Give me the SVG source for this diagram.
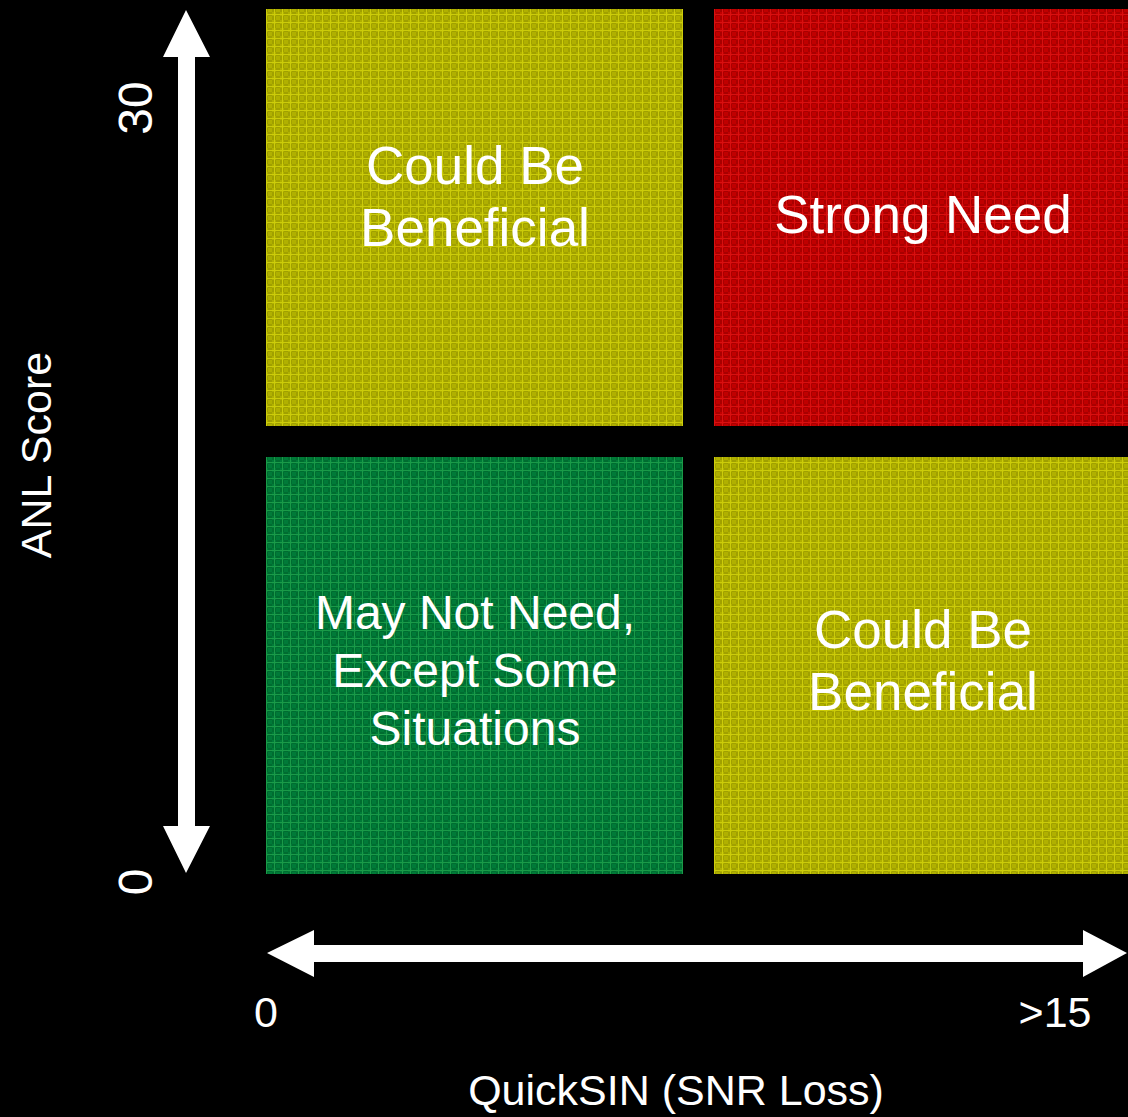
<svg xmlns="http://www.w3.org/2000/svg" width="1128" height="1117" viewBox="0 0 1128 1117">
<style>
text{font-family:"Liberation Sans",Arial,sans-serif;fill:#fff}
.q{font-size:53px;text-anchor:middle}
.m{font-size:48px;text-anchor:middle}
.ax{font-size:43px;text-anchor:middle}
.big{font-size:48px}
.arrow{fill:#fff}
</style>
<defs>
<pattern id="py" width="8" height="8" patternUnits="userSpaceOnUse">
<rect width="8" height="8" fill="#b0b000"/>
<rect x="0" y="0" width="4" height="4" fill="#a0a000"/>
<rect x="4" y="4" width="4" height="4" fill="#a0a000"/>
<rect x="2" y="0" width="1" height="8" fill="#cccc0a"/>
<rect x="0" y="6" width="8" height="1" fill="#cccc0a"/>
</pattern>
<pattern id="pr" width="8" height="8" patternUnits="userSpaceOnUse">
<rect width="8" height="8" fill="#c00000"/>
<rect x="0" y="0" width="4" height="4" fill="#a80000"/>
<rect x="4" y="4" width="4" height="4" fill="#a80000"/>
<rect x="2" y="0" width="1" height="8" fill="#d81010"/>
<rect x="0" y="6" width="8" height="1" fill="#d81010"/>
</pattern>
<pattern id="pg" width="8" height="8" patternUnits="userSpaceOnUse">
<rect width="8" height="8" fill="#007a38"/>
<rect x="0" y="0" width="4" height="4" fill="#006c30"/>
<rect x="4" y="4" width="4" height="4" fill="#006c30"/>
<rect x="2" y="0" width="1" height="8" fill="#1a9a48"/>
<rect x="0" y="6" width="8" height="1" fill="#1a9a48"/>
</pattern>
</defs>
<rect width="1128" height="1117" fill="#000"/>
<g id="q-top-left">
<rect x="266" y="9" width="417" height="417" fill="url(#py)"/>
<text class="q" x="475" y="184">Could Be</text>
<text class="q" x="475" y="246">Beneficial</text>
</g>
<g id="q-top-right">
<rect x="714" y="9" width="414" height="417" fill="url(#pr)"/>
<text class="q" x="923" y="233">Strong Need</text>
</g>
<g id="q-bottom-left">
<rect x="266" y="457" width="417" height="417" fill="url(#pg)"/>
<text class="m" x="475" y="629">May Not Need,</text>
<text class="m" x="475" y="687">Except Some</text>
<text class="m" x="475" y="745">Situations</text>
</g>
<g id="q-bottom-right">
<rect x="714" y="457" width="414" height="417" fill="url(#py)"/>
<text class="q" x="923" y="648">Could Be</text>
<text class="q" x="923" y="710">Beneficial</text>
</g>
<g id="connectors">
<polygon class="arrow" points="186,10 210,57 195,57 195,826 210,826 186,873 163,826 178,826 178,57 163,57"/>
<polygon class="arrow" points="267,953 314,930 314,945 1083,945 1083,930 1127,953 1083,977 1083,962 314,962 314,977"/>
</g>
<g id="labels">
<text class="ax big" transform="translate(152,108) rotate(-90)">30</text>
<text class="ax big" transform="translate(152,882) rotate(-90)">0</text>
<text class="ax" transform="translate(51,455) rotate(-90)">ANL Score</text>
<text class="ax" x="266" y="1027">0</text>
<text class="ax" x="1055" y="1027">&gt;15</text>
<text class="ax" x="676" y="1105">QuickSIN (SNR Loss)</text>
</g>
</svg>
